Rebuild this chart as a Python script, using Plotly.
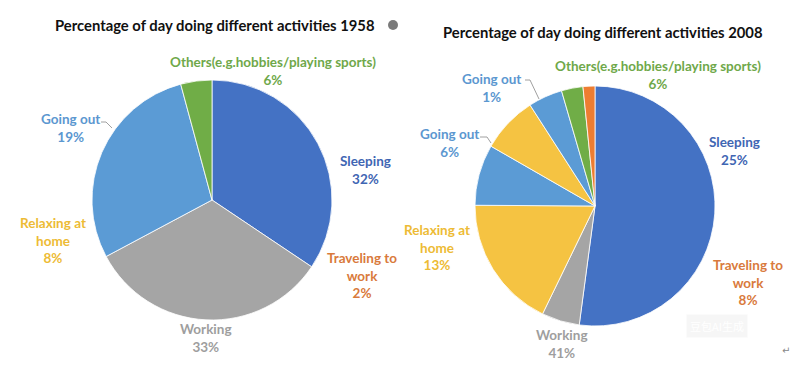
import plotly.graph_objects as go

W, H = 798, 382

# ---- data ----
titles = ["Percentage of day doing different activities 1958",
          "Percentage of day doing different activities 2008"]

# 1958: slices as drawn (clockwise from 12 o'clock)
slices_1958 = ["Sleeping", "Working", "Going out", "Others"]
values_1958 = [34.4, 32.8, 28.6, 4.2]
colors_1958 = ["#4472C4", "#A5A5A5", "#5B9BD5", "#70AD47"]

# 2008: slices as drawn (clockwise from 12 o'clock)
slices_2008 = ["Sleeping", "Working", "Relaxing at home", "Going out A",
               "Relaxing at home B", "Going out B", "Others", "Traveling to work"]
values_2008 = [52.1, 5.1, 17.9, 8.2, 7.6, 4.6, 2.9, 1.6]
colors_2008 = ["#4472C4", "#A5A5A5", "#F5C342", "#5B9BD5",
               "#F5C342", "#5B9BD5", "#70AD47", "#ED7D31"]

# printed data labels
labels_1958 = ["Others(e.g.hobbies/playing sports)", "Going out", "Sleeping",
               "Relaxing at<br>home", "Traveling to<br>work", "Working"]
pcts_1958 = ["6%", "19%", "32%", "8%", "2%", "33%"]
labels_2008 = ["Others(e.g.hobbies/playing sports)", "Going out", "Going out",
               "Sleeping", "Relaxing at<br>home", "Traveling to<br>work", "Working"]
pcts_2008 = ["6%", "1%", "6%", "25%", "13%", "8%", "41%"]

# ---- layout helpers ----
def px(x):
    return x / W

def py(y):
    return 1 - y / H

def dom(cx, cy, r):
    return dict(x=[px(cx - r), px(cx + r)], y=[py(cy + r), py(cy - r)])

FONT = "Lato, 'Open Sans', sans-serif"
C_BLUE = "#3F66B3"
C_LBLUE = "#5B97D0"
C_GREEN = "#6FA84A"
C_YEL = "#EDBB35"
C_ORG = "#D97A3C"
C_GRAY = "#9E9E9E"

fig = go.Figure()
fig.add_trace(go.Pie(labels=slices_1958, values=values_1958, sort=False,
                     direction="clockwise", rotation=0, textinfo="none",
                     hoverinfo="label+value",
                     marker=dict(colors=colors_1958, line=dict(color="white", width=0.8)),
                     domain=dom(212, 200, 120), showlegend=False))
fig.add_trace(go.Pie(labels=slices_2008, values=values_2008, sort=False,
                     direction="clockwise", rotation=0, textinfo="none",
                     hoverinfo="label+value",
                     marker=dict(colors=colors_2008, line=dict(color="white", width=0.8)),
                     domain=dom(595, 206, 120), showlegend=False))

ann = []
def lab(x, y, text, color, size=13.5):
    ann.append(dict(x=px(x), y=py(y), xref="paper", yref="paper", text=text,
                    showarrow=False, xanchor="center", yanchor="middle",
                    font=dict(family=FONT, size=size, color=color, weight="bold")))

# titles
lab(215, 25, titles[0], "#111111", 14.8)
lab(603, 32, titles[1], "#111111", 14.8)

# 1958 labels
pos_1958 = [(273, 71), (70, 128), (365, 170), (53, 240), (362, 275), (206, 338)]
col_1958 = [C_GREEN, C_LBLUE, C_BLUE, C_YEL, C_ORG, C_GRAY]
for (x, y), t, p, c in zip(pos_1958, labels_1958, pcts_1958, col_1958):
    lab(x, y, f"{t}<br>{p}", c)

# 2008 labels
pos_2008 = [(658, 75), (491, 88), (449, 143), (734, 151), (437, 247), (748, 282), (562, 344)]
col_2008 = [C_GREEN, C_LBLUE, C_LBLUE, C_BLUE, C_YEL, C_ORG, C_GRAY]
for (x, y), t, p, c in zip(pos_2008, labels_2008, pcts_2008, col_2008):
    lab(x, y, f"{t}<br>{p}", c)

# watermark and mark
ann.append(dict(x=px(748), y=py(338), xref="paper", yref="paper", text="豆包AI生成",
                showarrow=False, font=dict(family="Noto Sans CJK SC", size=11, color="white"),
                bgcolor="rgba(235,235,235,0.45)", borderpad=3))
ann.append(dict(x=px(792), y=py(358), xref="paper", yref="paper", text="↵",
                showarrow=False, font=dict(family="DejaVu Sans", size=10, color="#888888")))

shapes = []
def leader(pts):
    path = "M " + " L ".join(f"{px(x)},{py(y)}" for x, y in pts)
    shapes.append(dict(type="path", path=path, xref="paper", yref="paper",
                       line=dict(color="#A0A0A0", width=1)))

leader([(101, 122), (106, 122), (112, 128)])
leader([(525, 80), (530, 80), (539, 99)])
leader([(480, 137), (487, 137), (491, 143)])

# gray icon next to left title
shapes.append(dict(type="circle", xref="paper", yref="paper",
                   x0=px(388), x1=px(398), y0=py(30), y1=py(20),
                   fillcolor="#7A7A7A", line=dict(width=0)))

fig.update_layout(width=W, height=H, margin=dict(l=0, r=0, t=0, b=0),
                  paper_bgcolor="white", plot_bgcolor="white",
                  annotations=ann, shapes=shapes)
fig.write_html("out.html")
